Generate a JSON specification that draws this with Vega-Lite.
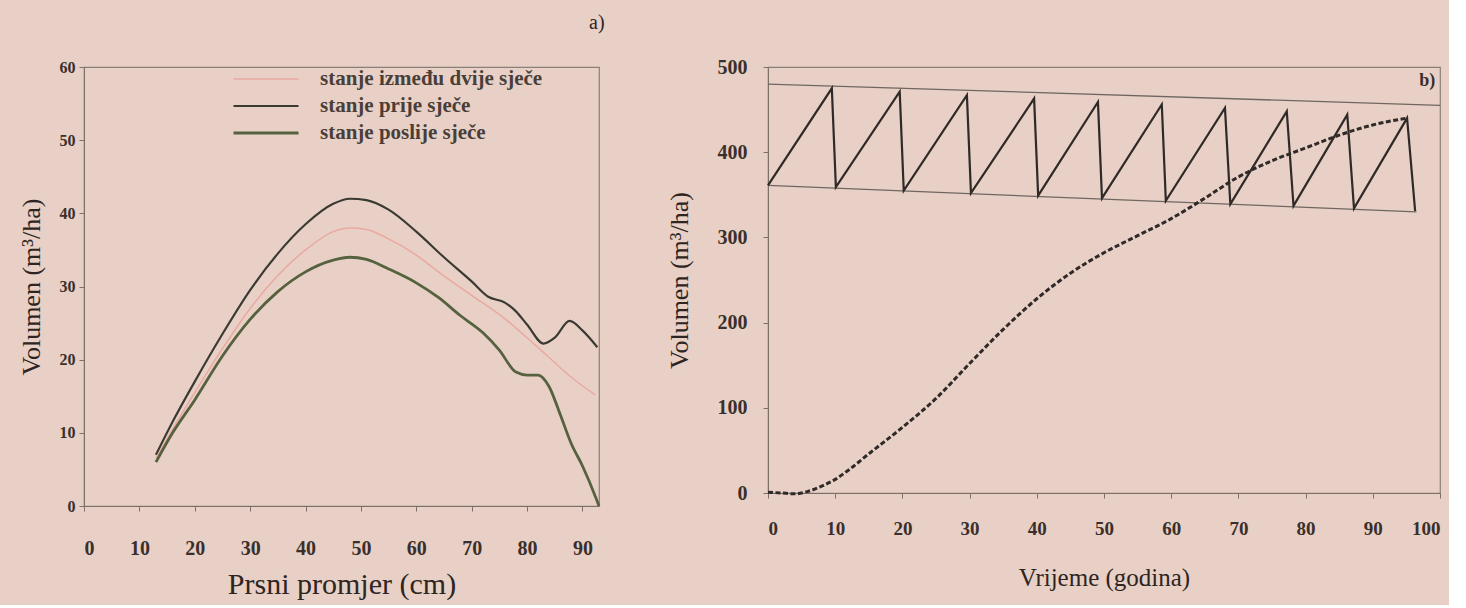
{
  "$schema": "https://vega.github.io/schema/vega-lite/v6.json",
  "background": "#e8d0c6",
  "padding": {"left": 17, "top": 12, "right": 5, "bottom": 5},
  "bounds": "flush",
  "spacing": 169,
  "config": {
    "font": "Liberation Serif",
    "view": {"stroke": "#8a7f78", "strokeWidth": 1.2},
    "axis": {
      "domainColor": "#7d7069", "tickColor": "#7d7069", "tickSize": 5, "grid": false,
      "labelColor": "#3a2f2b", "titleColor": "#2e2522", "titleFontWeight": "normal", "labelFontWeight": "bold",
      "labelFont": "Liberation Serif", "titleFont": "Liberation Serif"
    }
  },
  "datasets": {
    "left": [
      {"d": 13, "v": 7, "s": "stanje prije sječe"},
      {"d": 16, "v": 11.5, "s": "stanje prije sječe"},
      {"d": 20, "v": 17, "s": "stanje prije sječe"},
      {"d": 25, "v": 23.5, "s": "stanje prije sječe"},
      {"d": 30, "v": 29.5, "s": "stanje prije sječe"},
      {"d": 35, "v": 34.5, "s": "stanje prije sječe"},
      {"d": 40, "v": 38.5, "s": "stanje prije sječe"},
      {"d": 45, "v": 41.3, "s": "stanje prije sječe"},
      {"d": 48, "v": 42, "s": "stanje prije sječe"},
      {"d": 51, "v": 41.8, "s": "stanje prije sječe"},
      {"d": 55, "v": 40.5, "s": "stanje prije sječe"},
      {"d": 60, "v": 37.5, "s": "stanje prije sječe"},
      {"d": 65, "v": 34, "s": "stanje prije sječe"},
      {"d": 70, "v": 30.7, "s": "stanje prije sječe"},
      {"d": 73, "v": 28.6, "s": "stanje prije sječe"},
      {"d": 76, "v": 27.8, "s": "stanje prije sječe"},
      {"d": 78, "v": 26.6, "s": "stanje prije sječe"},
      {"d": 80, "v": 24.8, "s": "stanje prije sječe"},
      {"d": 83, "v": 22.2, "s": "stanje prije sječe"},
      {"d": 85, "v": 23, "s": "stanje prije sječe"},
      {"d": 87.7, "v": 25.3, "s": "stanje prije sječe"},
      {"d": 90, "v": 24, "s": "stanje prije sječe"},
      {"d": 92.7, "v": 21.7, "s": "stanje prije sječe"},
      {"d": 13, "v": 6.5, "s": "stanje između dvije sječe"},
      {"d": 16, "v": 10.5, "s": "stanje između dvije sječe"},
      {"d": 20, "v": 15.5, "s": "stanje između dvije sječe"},
      {"d": 25, "v": 21.5, "s": "stanje između dvije sječe"},
      {"d": 30, "v": 27, "s": "stanje između dvije sječe"},
      {"d": 35, "v": 31.5, "s": "stanje između dvije sječe"},
      {"d": 40, "v": 35, "s": "stanje između dvije sječe"},
      {"d": 45, "v": 37.5, "s": "stanje između dvije sječe"},
      {"d": 48, "v": 38, "s": "stanje između dvije sječe"},
      {"d": 51, "v": 37.8, "s": "stanje između dvije sječe"},
      {"d": 55, "v": 36.5, "s": "stanje između dvije sječe"},
      {"d": 60, "v": 34.3, "s": "stanje između dvije sječe"},
      {"d": 64, "v": 32, "s": "stanje između dvije sječe"},
      {"d": 70, "v": 28.8, "s": "stanje između dvije sječe"},
      {"d": 76, "v": 25.6, "s": "stanje između dvije sječe"},
      {"d": 80, "v": 23, "s": "stanje između dvije sječe"},
      {"d": 84, "v": 20.3, "s": "stanje između dvije sječe"},
      {"d": 88, "v": 17.6, "s": "stanje između dvije sječe"},
      {"d": 92.3, "v": 15.2, "s": "stanje između dvije sječe"},
      {"d": 13, "v": 6, "s": "stanje poslije sječe"},
      {"d": 16, "v": 10, "s": "stanje poslije sječe"},
      {"d": 20, "v": 14.5, "s": "stanje poslije sječe"},
      {"d": 25, "v": 20.5, "s": "stanje poslije sječe"},
      {"d": 30, "v": 25.5, "s": "stanje poslije sječe"},
      {"d": 35, "v": 29.3, "s": "stanje poslije sječe"},
      {"d": 40, "v": 32, "s": "stanje poslije sječe"},
      {"d": 45, "v": 33.6, "s": "stanje poslije sječe"},
      {"d": 48, "v": 34, "s": "stanje poslije sječe"},
      {"d": 51, "v": 33.7, "s": "stanje poslije sječe"},
      {"d": 55, "v": 32.4, "s": "stanje poslije sječe"},
      {"d": 60, "v": 30.5, "s": "stanje poslije sječe"},
      {"d": 64, "v": 28.5, "s": "stanje poslije sječe"},
      {"d": 68, "v": 26, "s": "stanje poslije sječe"},
      {"d": 72, "v": 23.7, "s": "stanje poslije sječe"},
      {"d": 75, "v": 21.3, "s": "stanje poslije sječe"},
      {"d": 78, "v": 18.3, "s": "stanje poslije sječe"},
      {"d": 80, "v": 17.9, "s": "stanje poslije sječe"},
      {"d": 82, "v": 17.9, "s": "stanje poslije sječe"},
      {"d": 84, "v": 16.3, "s": "stanje poslije sječe"},
      {"d": 86, "v": 12.5, "s": "stanje poslije sječe"},
      {"d": 88, "v": 8.5, "s": "stanje poslije sječe"},
      {"d": 90, "v": 5.5, "s": "stanje poslije sječe"},
      {"d": 92.5, "v": 1, "s": "stanje poslije sječe"},
      {"d": 93, "v": 0, "s": "stanje poslije sječe"}
    ],
    "envelope": [
      {"t": 0, "v": 480, "g": "gornja"},
      {"t": 100, "v": 455, "g": "gornja"},
      {"t": 0, "v": 361, "g": "donja"},
      {"t": 96.5, "v": 330, "g": "donja"}
    ],
    "saw": [
      {"t": 0, "v": 361}, {"t": 9.5, "v": 475}, {"t": 10.1, "v": 359},
      {"t": 19.6, "v": 471}, {"t": 20.2, "v": 355},
      {"t": 29.6, "v": 467}, {"t": 30.2, "v": 352},
      {"t": 39.6, "v": 463}, {"t": 40.2, "v": 349},
      {"t": 49.1, "v": 459}, {"t": 49.7, "v": 346},
      {"t": 58.6, "v": 456}, {"t": 59.2, "v": 343},
      {"t": 68, "v": 452}, {"t": 68.8, "v": 339},
      {"t": 77.2, "v": 448}, {"t": 78.2, "v": 337},
      {"t": 86.2, "v": 444}, {"t": 87.2, "v": 334},
      {"t": 95.1, "v": 440}, {"t": 96.3, "v": 331}
    ],
    "growth": [
      {"t": 0, "v": 1}, {"t": 2, "v": 0}, {"t": 4, "v": -1}, {"t": 6, "v": 2},
      {"t": 8, "v": 8}, {"t": 10, "v": 16}, {"t": 12, "v": 27}, {"t": 15, "v": 46},
      {"t": 20, "v": 77}, {"t": 25, "v": 111}, {"t": 30, "v": 152},
      {"t": 35, "v": 192}, {"t": 40, "v": 228}, {"t": 45, "v": 258}, {"t": 50, "v": 282},
      {"t": 55, "v": 302}, {"t": 60, "v": 322}, {"t": 65, "v": 346}, {"t": 70, "v": 371},
      {"t": 75, "v": 390}, {"t": 80, "v": 405}, {"t": 85, "v": 420}, {"t": 90, "v": 432},
      {"t": 95.1, "v": 440}
    ],
    "labels": [{"t": 99.3, "v": 484, "txt": "b)"}]
  },
  "hconcat": [
    {
      "width": 515,
      "height": 439,
      "title": {"text": "a)", "anchor": "end", "fontSize": 20, "fontWeight": "normal", "offset": 26, "color": "#2e2522", "font": "Liberation Serif"},
      "data": {"name": "left"},
      "mark": {"type": "line", "interpolate": "monotone"},
      "encoding": {
        "x": {"field": "d", "type": "quantitative", "scale": {"domain": [0, 93], "nice": false},
          "axis": {"values": [0, 10, 20, 30, 40, 50, 60, 70, 80, 90], "title": "Prsni promjer (cm)", "titleFontSize": 30, "labelFontSize": 20, "labelPadding": 27, "titlePadding": 11}},
        "y": {"field": "v", "type": "quantitative", "scale": {"domain": [0, 60], "nice": false},
          "axis": {"values": [0, 10, 20, 30, 40, 50, 60], "title": "Volumen (m³/ha)", "titleFontSize": 26, "labelFontSize": 16, "labelPadding": 4, "titlePadding": 15}},
        "color": {"field": "s", "type": "nominal",
          "scale": {"domain": ["stanje između dvije sječe", "stanje prije sječe", "stanje poslije sječe"], "range": ["#eaa9a0", "#3a3932", "#56623f"]},
          "legend": {"title": null, "orient": "none", "legendX": 148, "legendY": 3, "labelFontSize": 21, "labelFontWeight": "bold", "labelLimit": 500, "labelColor": "#4a3e39", "labelFont": "Liberation Serif", "symbolType": "stroke", "symbolSize": 4225, "symbolStrokeWidth": 2.5, "clipHeight": 18, "rowPadding": 6, "labelOffset": 20}},
        "strokeWidth": {"field": "s", "type": "nominal",
          "scale": {"domain": ["stanje između dvije sječe", "stanje prije sječe", "stanje poslije sječe"], "range": [1.5, 2.8, 2.6]}, "legend": null}
      }
    },
    {
      "width": 672,
      "height": 426,
      "layer": [
        {
          "data": {"name": "envelope"},
          "mark": {"type": "line", "color": "#6f6660", "strokeWidth": 1.3},
          "encoding": {
            "x": {"field": "t", "type": "quantitative", "scale": {"domain": [0, 100], "nice": false},
              "axis": {"values": [0, 10, 20, 30, 40, 50, 60, 70, 80, 90, 100], "title": "Vrijeme (godina)", "titleFontSize": 25, "labelFontSize": 19, "labelPadding": 21, "titlePadding": 27}},
            "y": {"field": "v", "type": "quantitative", "scale": {"domain": [0, 500], "nice": false},
              "axis": {"values": [0, 100, 200, 300, 400, 500], "title": "Volumen (m³/ha)", "titleFontSize": 26, "labelFontSize": 20, "labelPadding": 16, "titlePadding": 25}},
            "detail": {"field": "g", "type": "nominal"}
          }
        },
        {
          "data": {"name": "saw"},
          "mark": {"type": "line", "color": "#2f2a27", "strokeWidth": 2.2},
          "encoding": {
            "x": {"field": "t", "type": "quantitative"},
            "y": {"field": "v", "type": "quantitative"}
          }
        },
        {
          "data": {"name": "growth"},
          "mark": {"type": "line", "color": "#2f2a27", "strokeWidth": 3, "strokeDash": [5, 2.5], "interpolate": "monotone"},
          "encoding": {
            "x": {"field": "t", "type": "quantitative"},
            "y": {"field": "v", "type": "quantitative"}
          }
        },
        {
          "data": {"name": "labels"},
          "mark": {"type": "text", "align": "right", "baseline": "middle", "fontSize": 18, "fontWeight": "bold", "color": "#3a2f2b", "font": "Liberation Serif"},
          "encoding": {
            "x": {"field": "t", "type": "quantitative"},
            "y": {"field": "v", "type": "quantitative"},
            "text": {"field": "txt"}
          }
        }
      ]
    }
  ]
}
